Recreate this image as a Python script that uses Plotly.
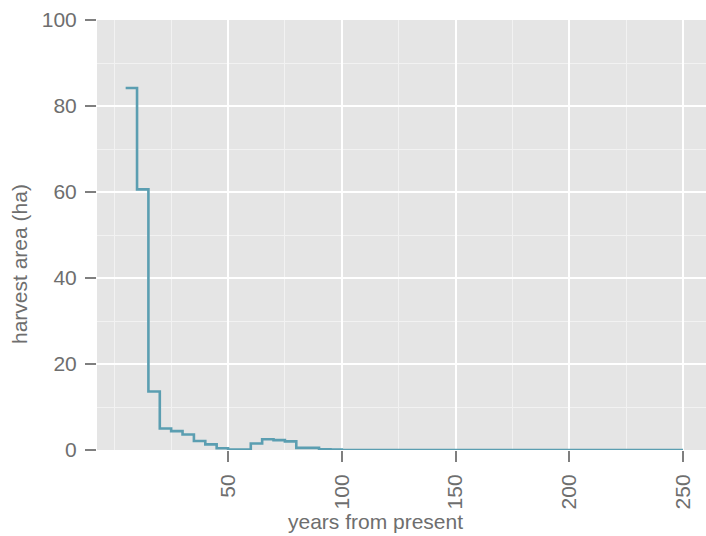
import plotly.graph_objects as go

years = [5, 10, 15, 20, 25, 30, 35, 40, 45, 50, 55, 60, 65, 70, 75, 80, 85, 90, 95, 100, 250]
area = [84.2, 60.6, 13.6, 5.0, 4.4, 3.6, 2.1, 1.3, 0.4, 0.1, 0.1, 1.5, 2.5, 2.3, 2.0, 0.5, 0.5, 0.15, 0.1, 0.0, 0.0]

x_ticks = [50, 100, 150, 200, 250]
y_ticks = [0, 20, 40, 60, 80, 100]

font_family = "Liberation Sans, Arial, sans-serif"
text_color = "#6e6e6e"

fig = go.Figure()
fig.add_trace(go.Scatter(
    x=years, y=area, mode="lines", line_shape="hv",
    line=dict(color="#5b9eb1", width=2.6),
    showlegend=False, hoverinfo="skip",
))

fig.update_layout(
    width=706, height=536,
    margin=dict(l=97, r=0, t=20, b=86),
    paper_bgcolor="white",
    plot_bgcolor="#E5E5E5",
    font=dict(family=font_family, color=text_color, size=21),
)

fig.update_xaxes(
    range=[-7.6, 260.1],
    tickvals=x_ticks, ticktext=[str(v) for v in x_ticks],
    tickangle=-90,
    ticks="outside", ticklen=11, tickwidth=2, tickcolor="#7f7f7f",
    tickfont=dict(size=21, color=text_color),
    ticklabelstandoff=4,
    showgrid=True, gridcolor="white", gridwidth=2,
    minor=dict(tick0=0, dtick=25, showgrid=True, gridcolor="#F2F2F2", gridwidth=1, ticks=""),
    zeroline=False, showline=False,
)
fig.update_yaxes(
    range=[0, 100],
    tickvals=y_ticks, ticktext=[str(v) for v in y_ticks],
    ticks="outside", ticklen=11, tickwidth=2, tickcolor="#7f7f7f",
    tickfont=dict(size=21, color=text_color),
    ticklabelstandoff=4,
    showgrid=True, gridcolor="white", gridwidth=2,
    minor=dict(tick0=0, dtick=10, showgrid=True, gridcolor="#F2F2F2", gridwidth=1, ticks=""),
    zeroline=False, showline=False,
)

fig.add_annotation(
    text="years from present", xref="paper", yref="paper",
    x=0.458, y=-0.1674, xanchor="center", yanchor="middle",
    showarrow=False, font=dict(size=21, color=text_color),
)
fig.add_annotation(
    text="harvest area (ha)", xref="paper", yref="paper",
    x=-0.1264, y=0.4326, xanchor="center", yanchor="middle", textangle=-90,
    showarrow=False, font=dict(size=21, color=text_color),
)

fig.write_html("out.html")
